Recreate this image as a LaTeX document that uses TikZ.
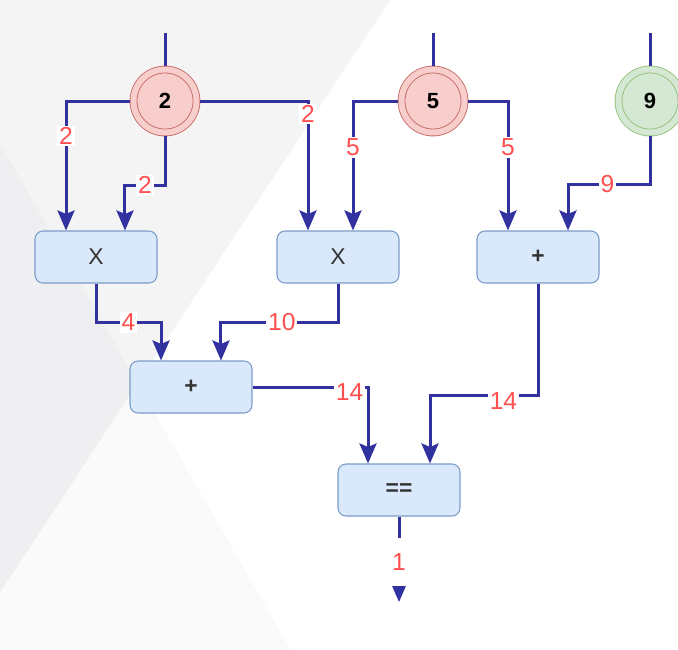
\documentclass[tikz,border=0pt]{standalone}
\usepackage{fontspec}
\setmainfont{Liberation Sans}
\usetikzlibrary{arrows.meta}
\definecolor{wirecol}{HTML}{3131A0}
\definecolor{lblcol}{HTML}{FF4F4F}
\definecolor{boxfill}{HTML}{DAE8FC}
\definecolor{boxline}{HTML}{7C9CC8}
\definecolor{optext}{HTML}{333333}
\definecolor{redfill}{HTML}{F8CECC}
\definecolor{redline}{HTML}{C56A66}
\definecolor{greenfill}{HTML}{D5E8D4}
\definecolor{greenline}{HTML}{93C07A}
\definecolor{bgone}{HTML}{F4F4F5}
\definecolor{bgtwo}{HTML}{EFEFF1}
\definecolor{bgthree}{HTML}{FAFAFA}
\tikzset{
  op/.style={draw=boxline, fill=boxfill, rounded corners=0.16cm, line width=0.6pt,
    minimum width=2.44cm, minimum height=1.04cm, text=optext,
    font=\fontsize{13}{15}\selectfont},
  boldop/.style={op, font=\bfseries\fontsize{13}{15}\selectfont},
  input/.style={circle, inner sep=0pt, minimum size=1.26cm, line width=0.5pt,
    double distance=0.12cm, outer sep=0.078cm, font=\bfseries\fontsize{12.5}{14}\selectfont},
  redin/.style={input, draw=redline, double=redfill, fill=redfill},
  greenin/.style={input, draw=greenline, double=greenfill, fill=greenfill},
  wire/.style={draw=wirecol, line width=0.06cm},
  feed/.style={wire, -{Stealth[length=0.4cm,width=0.34cm,inset=0.07cm]}},
  lbl/.style={fill=white, text=lblcol, inner sep=1pt, font=\fontsize{14}{16}\selectfont}
}
\begin{document}
\begin{tikzpicture}[x=0.02cm,y=-0.02cm]
\useasboundingbox (0,0) rectangle (678,649);
% background
\fill [white] (0,0) rectangle (678,649);
\fill [bgone] (0,0) -- (390,0) -- (137.8,383.4) -- (0,143) -- cycle;
\fill [bgtwo] (0,143) -- (137.8,383.4) -- (0,593) -- cycle;
\fill [bgthree] (0,593) -- (137.8,383.4) -- (290,649) -- (0,649) -- cycle;
% inputs
\node [redin] (c2) at (165,101) {2};
\node [redin] (c5) at (433,101) {5};
\node [greenin] (c9) at (650,101) {9};
\coordinate (top2) at (165,33);
\coordinate (top5) at (433,33);
\coordinate (top9) at (650,33);
% operations
\node [op] (x1) at (96,257) {X};
\node [op] (x2) at (338,257) {X};
\node [boldop] (p1) at (538,257) {+};
\node [boldop] (p2) at (191,387) {+};
\node [boldop] (eq) at (399,490) {==};
\coordinate (out) at (399,602);
% wires
\draw [wire] (top2) -- (c2);
\draw [wire] (top5) -- (c5);
\draw [wire] (top9) -- (c9);
\draw [feed] (c2.west) -| node [lbl, pos=0.635] {2} ([xshift=-0.6cm]x1.north);
\draw [feed] (c2.south) -- ++(0,49) -| node [lbl, pos=0.25] {2} ([xshift=0.58cm]x1.north);
\draw [feed] (c2.east) -| node [lbl, pos=0.55] {2} ([xshift=-0.6cm]x2.north);
\draw [feed] (c5.west) -| node [lbl, pos=0.68] {5} ([xshift=0.3cm]x2.north);
\draw [feed] (c5.east) -| node [lbl, pos=0.68] {5} ([xshift=-0.6cm]p1.north);
\draw [feed] (c9.south) -- ++(0,48) -| node [lbl, pos=0.26] {9} ([xshift=0.6cm]p1.north);
\draw [feed] (x1.south) -- ++(0,39) -| node [lbl, pos=0.25] {4} ([xshift=-0.6cm]p2.north);
\draw [feed] (x2.south) -- ++(0,39) -| node [lbl, pos=0.24] {10} ([xshift=0.6cm]p2.north);
\draw [feed] (p2.east) -| node [lbl, pos=0.42, yshift=-0.1cm] {14} ([xshift=-0.62cm]eq.north);
\draw [feed] (p1.south) -- ++(0,112) -| node [lbl, pos=0.16, yshift=-0.12cm] {14} ([xshift=0.62cm]eq.north);
\draw [feed] (eq.south) -- node [lbl, pos=0.53, minimum height=0.96cm] {1} (out);
\end{tikzpicture}
\end{document}
